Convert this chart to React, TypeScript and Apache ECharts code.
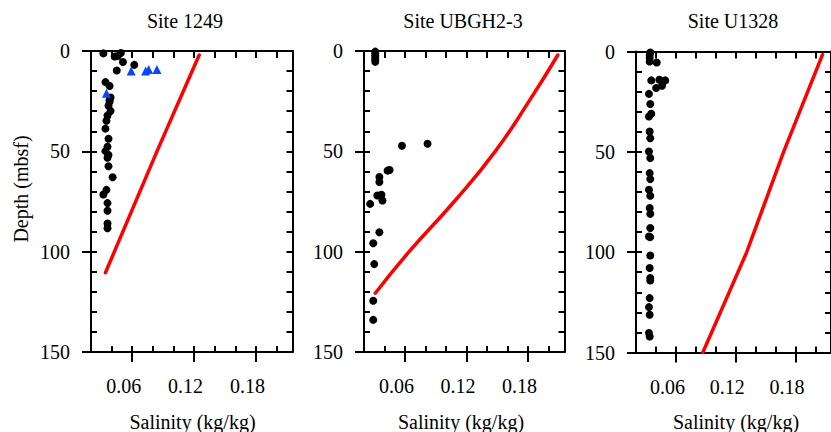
import React, { useEffect, useRef } from "react";
import * as echarts from "echarts";

// ---- Data (salinity kg/kg vs depth mbsf) ----
const SITES = ["Site 1249", "Site UBGH2-3", "Site U1328"];

const DEPTH_1249_PW = [1.2, 2.7, 2.5, 1.0, 5.5, 9.7, 6.9, 15.5, 17.4, 23.2, 24.4, 25.3, 27.3, 29.9, 32.1, 34.8, 38.7, 43.7, 47.7, 49.9, 51.8, 53.2, 57.4, 62.9, 69.2, 71.5, 75.8, 79.6, 86.0, 88.3];
const SAL_1249_PW = [0.032, 0.043, 0.046, 0.049, 0.051, 0.045, 0.062, 0.034, 0.038, 0.039, 0.038, 0.038, 0.037, 0.039, 0.036, 0.035, 0.034, 0.037, 0.036, 0.034, 0.037, 0.036, 0.037, 0.041, 0.035, 0.032, 0.036, 0.036, 0.036, 0.036];
const DEPTH_1249_TRI = [10.0, 10.0, 9.2, 9.2, 21.0];
const SAL_1249_TRI = [0.059, 0.073, 0.076, 0.084, 0.035];
const DEPTH_1249_LINE = [2, 50, 110.5];
const SAL_1249_LINE = [0.125, 0.084, 0.034];

const DEPTH_UBGH = [0.3, 1.2, 2.2, 3.2, 4.2, 5.4, 46.2, 47.2, 59.3, 59.6, 62.8, 65.3, 71.6, 72.0, 74.5, 76.2, 90.3, 95.8, 106.2, 124.5, 134.0];
const SAL_UBGH = [0.031, 0.031, 0.031, 0.031, 0.031, 0.031, 0.082, 0.057, 0.045, 0.043, 0.035, 0.035, 0.037, 0.033, 0.038, 0.026, 0.035, 0.029, 0.030, 0.029, 0.029];
const DEPTH_UBGH_LINE = [2, 25, 50, 75, 100, 120.7];
const SAL_UBGH_LINE = [0.209, 0.181, 0.148, 0.108, 0.064, 0.031];

const DEPTH_U1328 = [0.5, 2.0, 3.3, 5.0, 5.5, 14.4, 14.1, 15.0, 14.4, 17.1, 18.2, 21.1, 26.2, 31.0, 32.4, 39.9, 43.2, 49.8, 53.1, 60.6, 63.6, 68.9, 71.9, 78.0, 80.9, 88.0, 92.2, 92.5, 101.7, 107.9, 112.9, 114.1, 122.9, 127.4, 131.2, 140.3, 142.0];
const SAL_U1328 = [0.0343, 0.0337, 0.0337, 0.0337, 0.0408, 0.0353, 0.0434, 0.0473, 0.0493, 0.0461, 0.0402, 0.033, 0.0343, 0.0353, 0.033, 0.0337, 0.0343, 0.033, 0.0343, 0.0337, 0.0343, 0.033, 0.0343, 0.0337, 0.0343, 0.0343, 0.033, 0.0343, 0.0343, 0.0337, 0.0343, 0.0343, 0.0337, 0.033, 0.0337, 0.033, 0.0337];
const DEPTH_U1328_LINE = [1.6, 50, 100, 150];
const SAL_U1328_LINE = [0.207, 0.168, 0.131, 0.087];

const X_MAJOR = [0.06, 0.12, 0.18];
const X_NAME = "Salinity (kg/kg)";
const Y_NAME = "Depth (mbsf)";

const pairs = (sal: number[], dep: number[]) => sal.map((s, i) => [s, dep[i]]);

const FONT = "Liberation Serif";
const BLACK = "#000";

export default function App() {
  const ref = useRef<HTMLDivElement>(null);
  useEffect(() => {
    if (!ref.current) return;
    const chart = echarts.init(ref.current, null, { renderer: "svg" });
    const grids = [
      { left: 91, top: 51, width: 201.5, height: 301 },
      { left: 364, top: 51, width: 200.5, height: 301 },
      { left: 636, top: 51.5, width: 200.6, height: 301 },
    ];
    const titleX = [185, 463, 733];
    const nameX = [192.5, 461, 736];
    const xMin = 0.02, xMax = 0.2155;
    const xAxes: any[] = [];
    const yAxes: any[] = [];
    const rich = { s: { fontFamily: FONT, fontSize: 20, color: BLACK, fontWeight: "normal" } };
    grids.forEach((_, g) => {
      xAxes.push({
        type: "value", gridIndex: g, position: "bottom", min: xMin, max: xMax,
        axisLine: { show: true, onZero: false, lineStyle: { color: BLACK, width: 2 } },
        axisTick: { show: true, inside: false, length: 10, customValues: X_MAJOR, lineStyle: { color: BLACK, width: 2 } },
        axisLabel: {
          show: true, customValues: X_MAJOR, formatter: (v: number) => `{s|${v.toFixed(2)}}`,
          fontFamily: FONT, fontSize: 20, color: BLACK, rich, margin: 24, padding: [0, 17, 0, 0],
        },
        splitLine: { show: false },
      });
      xAxes.push({
        type: "value", gridIndex: g, position: "bottom", min: xMin, max: xMax, interval: 0.02,
        axisLine: { show: false, onZero: false },
        axisTick: { show: true, inside: true, length: 6, lineStyle: { color: BLACK, width: 2 } },
        axisLabel: { show: false }, splitLine: { show: false },
      });
      xAxes.push({
        type: "value", gridIndex: g, position: "top", min: xMin, max: xMax, interval: 0.02,
        axisLine: { show: true, onZero: false, lineStyle: { color: BLACK, width: 2 } },
        axisTick: { show: true, inside: true, length: 7, lineStyle: { color: BLACK, width: 2 } },
        axisLabel: { show: false }, splitLine: { show: false },
      });
      yAxes.push({
        type: "value", gridIndex: g, position: "left", inverse: true, min: 0, max: 150, interval: 50,
        axisLine: { show: true, onZero: false, lineStyle: { color: BLACK, width: 2 } },
        axisTick: { show: true, inside: false, length: 9, lineStyle: { color: BLACK, width: 2 } },
        axisLabel: {
          show: true, formatter: (v: number) => `{s|${v}}`,
          fontFamily: FONT, fontSize: 20, color: BLACK, rich, margin: 21,
        },
        splitLine: { show: false },
      });
      yAxes.push({
        type: "value", gridIndex: g, position: "left", inverse: true, min: 0, max: 150, interval: 10,
        axisLine: { show: false, onZero: false },
        axisTick: { show: true, inside: true, length: 6, lineStyle: { color: BLACK, width: 2 } },
        axisLabel: { show: false }, splitLine: { show: false },
      });
      yAxes.push({
        type: "value", gridIndex: g, position: "right", inverse: true, min: 0, max: 150, interval: 10,
        axisLine: { show: true, onZero: false, lineStyle: { color: BLACK, width: 2 } },
        axisTick: { show: true, inside: true, length: 6, lineStyle: { color: BLACK, width: 2 } },
        axisLabel: { show: false }, splitLine: { show: false },
      });
    });

    const dot = (g: number, data: number[][]) => ({
      type: "scatter", xAxisIndex: g * 3, yAxisIndex: g * 3, data,
      symbol: "circle", symbolSize: 8, itemStyle: { color: BLACK, opacity: 1 }, z: 3,
    });
    const redLine = (g: number, data: number[][], smooth: number | boolean) => ({
      type: "line", xAxisIndex: g * 3, yAxisIndex: g * 3, data, smooth,
      showSymbol: false, symbol: "none", lineStyle: { color: "#ff0000", width: 3.5, cap: "round" }, z: 2,
    });

    const graphics: any[] = [];
    SITES.forEach((t, i) => {
      graphics.push({
        type: "text", x: titleX[i], y: 21,
        style: { text: t, font: `20px ${FONT}`, fill: BLACK, align: "center", verticalAlign: "middle" },
      });
      graphics.push({
        type: "text", x: nameX[i], y: 422,
        style: { text: X_NAME, font: `20px ${FONT}`, fill: BLACK, align: "center", verticalAlign: "middle" },
      });
    });
    graphics.push({
      type: "text", x: 21, y: 189, rotation: Math.PI / 2,
      style: { text: Y_NAME, font: `20px ${FONT}`, fill: BLACK, align: "center", verticalAlign: "middle" },
    });

    chart.setOption({
      animation: false,
      backgroundColor: "#fff",
      textStyle: { fontFamily: FONT },
      grid: grids,
      xAxis: xAxes,
      yAxis: yAxes,
      graphic: graphics,
      series: [
        redLine(0, pairs(SAL_1249_LINE, DEPTH_1249_LINE), false),
        dot(0, pairs(SAL_1249_PW, DEPTH_1249_PW)),
        {
          type: "scatter", xAxisIndex: 0, yAxisIndex: 0, data: pairs(SAL_1249_TRI, DEPTH_1249_TRI),
          symbol: "triangle", symbolSize: 9, itemStyle: { color: "#0a46ff", opacity: 1 }, z: 4,
        },
        redLine(1, pairs(SAL_UBGH_LINE, DEPTH_UBGH_LINE), true),
        dot(1, pairs(SAL_UBGH, DEPTH_UBGH)),
        redLine(2, pairs(SAL_U1328_LINE, DEPTH_U1328_LINE), false),
        dot(2, pairs(SAL_U1328, DEPTH_U1328)),
      ],
    });
    return () => chart.dispose();
  }, []);
  return (
    <div
      ref={ref}
      style={{ position: "fixed", left: 0, top: 0, width: 831, height: 432, overflow: "hidden" }}
    />
  );
}
